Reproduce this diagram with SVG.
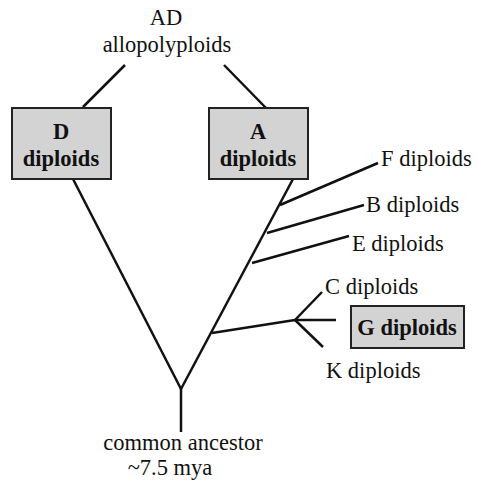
<svg xmlns="http://www.w3.org/2000/svg" width="477" height="483" viewBox="0 0 477 483">
<style>
.t{font-family:'Liberation Serif','DejaVu Serif',serif;font-size:22.5px;font-weight:normal;fill:#111}
.b{font-family:'Liberation Serif','DejaVu Serif',serif;font-size:22.5px;font-weight:bold;fill:#111}
.box{fill:#d3d3d3;stroke:#222;stroke-width:2}
.e{stroke:#111;stroke-width:2.5;fill:none;stroke-linecap:butt}
</style>
<rect width="477" height="483" fill="#fff"/>
<g id="connectors">
<line class="e" x1="125" y1="65" x2="83" y2="107"/>
<line class="e" x1="224" y1="65" x2="266" y2="108"/>
<line class="e" x1="73" y1="179" x2="181" y2="389"/>
<line class="e" x1="293" y1="179" x2="181" y2="389"/>
<line class="e" x1="181" y1="388" x2="181" y2="432"/>
<line class="e" x1="280" y1="205" x2="378" y2="163"/>
<line class="e" x1="267" y1="233" x2="364" y2="205"/>
<line class="e" x1="252" y1="263" x2="349" y2="236"/>
<line class="e" x1="212" y1="333" x2="295" y2="320"/>
<line class="e" x1="295" y1="320" x2="322" y2="292"/>
<line class="e" x1="295" y1="320" x2="336" y2="320"/>
<line class="e" x1="295" y1="320" x2="323" y2="347"/>
</g>
<g id="AD">
<text class="t" x="166" y="25" text-anchor="middle">AD</text>
<text class="t" x="167" y="52" text-anchor="middle">allopolyploids</text>
</g>
<g id="D">
<rect class="box" x="12" y="108" width="99" height="71"/>
<text class="b" x="61" y="139" text-anchor="middle">D</text>
<text class="b" x="61" y="166" text-anchor="middle">diploids</text>
</g>
<g id="A">
<rect class="box" x="209" y="108" width="99" height="71"/>
<text class="b" x="258" y="139" text-anchor="middle">A</text>
<text class="b" x="258" y="166" text-anchor="middle">diploids</text>
</g>
<g id="F"><text class="t" x="381" y="166">F diploids</text></g>
<g id="B"><text class="t" x="366" y="212">B diploids</text></g>
<g id="E"><text class="t" x="352" y="251">E diploids</text></g>
<g id="C"><text class="t" x="325" y="294">C diploids</text></g>
<g id="G">
<rect class="box" x="351" y="306" width="113" height="42"/>
<text class="b" x="407" y="335" text-anchor="middle">G diploids</text>
</g>
<g id="K"><text class="t" x="326" y="378">K diploids</text></g>
<g id="ancestor">
<text class="t" x="183" y="450" text-anchor="middle">common ancestor</text>
<text class="t" x="170" y="475" text-anchor="middle">~7.5 mya</text>
</g>
</svg>
